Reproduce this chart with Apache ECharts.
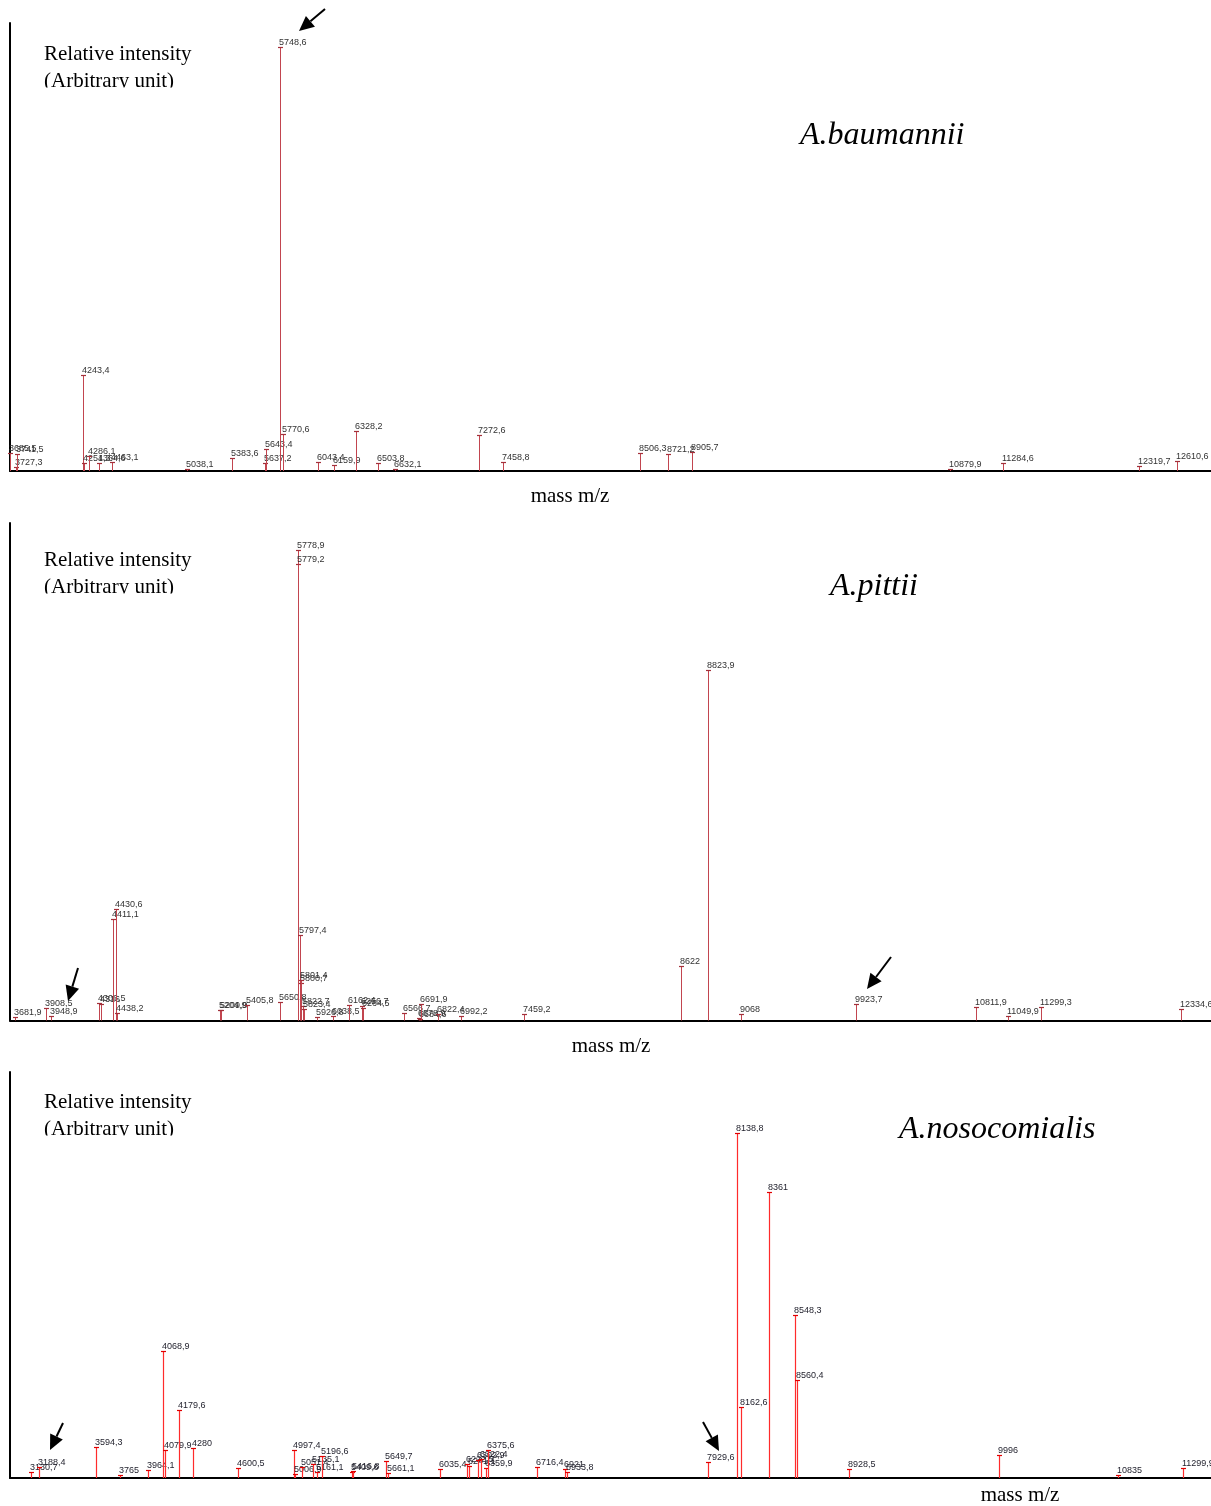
<!DOCTYPE html>
<html>
<head>
<meta charset="utf-8">
<script src="https://cdn.jsdelivr.net/npm/echarts@6/dist/echarts.min.js"></script>
<style>
html, body { margin: 0; padding: 0; background: #fff; overflow: hidden; }
#main { width: 1211px; height: 1506px; }
</style>
</head>
<body>
<div id="main"></div>
<script>
// A.baumannii - peaks m/z and relative intensity (arbitrary unit)
var masses1 = [3685.5, 3727.3, 3741.5, 4243.4, 4251.3, 4286.1, 4364.6, 4463.1, 5038.1, 5383.6,
	5637.2, 5643.4, 5748.6, 5770.6, 6043.4, 6159.9, 6328.2, 6503.8, 6632.1, 7272.6,
	7458.8, 8506.3, 8721.2, 8905.7, 10879.9, 11284.6, 12319.7, 12610.6];
var intens1 = [18, 4, 17, 96, 8, 15, 8, 9, 2, 13,
	8, 22, 424, 37, 9, 6, 40, 8, 2, 36,
	9, 18, 17, 19, 2, 8, 5, 10];

// A.pittii
var masses2 = [3681.9, 3908.5, 3948.9, 4306.5, 4316, 4411.1, 4430.6, 4438.2, 5204.9, 5209.9,
	5405.8, 5650.8, 5778.9, 5779.2, 5797.4, 5800.7, 5801.4, 5822.7, 5823.4, 5926.8,
	6038.5, 6162.4, 6256.7, 6264.5, 6566.7, 6678.9, 6684.6, 6691.9, 6822.4, 6992.2,
	7459.2, 8622, 8823.9, 9068, 9923.7, 10811.9, 11049.9, 11299.3, 12334.6];
var intens2 = [3.7, 12.4, 4.7, 17.4, 16.4, 102, 111.4, 7.4, 10.7, 10.2,
	15.7, 18.4, 471, 457, 86, 38, 41, 15, 12, 4,
	5, 16, 15, 13, 8, 3, 2, 17, 7, 5,
	7, 55, 351, 7, 17, 14, 5, 14, 12];

// A.nosocomialis
var masses3 = [3130.7, 3188.4, 3594.3, 3765, 3964.1, 4068.9, 4079.9, 4179.6, 4280, 4600.5,
	4997.4, 5006.9, 5051.4, 5135.1, 5161.1, 5196.6, 5409.6, 5416.8, 5649.7, 5661.1,
	6035.4, 6222.5, 6241.1, 6302.9, 6322.4, 6359.9, 6375.6, 6716.4, 6921, 6933.8,
	7929.6, 8138.8, 8162.6, 8361, 8548.3, 8560.4, 8928.5, 9996, 10835, 11299.9];
var intens3 = [5.6, 10.6, 30.6, 3.3, 8, 126.6, 28, 68, 30, 9.6,
	28, 4, 11, 14, 5.6, 22, 6, 6.6, 17.3, 5,
	9, 14, 12, 18, 19, 10, 28, 11, 9, 6,
	16, 344.7, 71, 285.7, 163, 98, 9, 23, 3.5, 10];

var species = ['A.baumannii', 'A.pittii', 'A.nosocomialis'];

// axis ranges (m/z visible in each panel, intensity top)
var xRanges = [[3685, 12873], [3644, 12560], [2985, 11496]];
var yMax = [448, 497.5, 406];

var serif = "'Liberation Serif', 'Times New Roman', serif";

function fmtMass(m) {
	return String(m).replace('.', ',');
}

function peakRenderer(stemColor, capColor, textColor, lw) {
	return function(params, api) {
		var m = api.value(0);
		var top = api.coord([m, api.value(1)]);
		var base = api.coord([m, 0]);
		var x = Math.round(top[0]) + 0.5;
		var y = Math.round(top[1]) + 0.5;
		return {
			type : 'group',
			children : [
				{ type : 'line', shape : { x1 : x, y1 : base[1], x2 : x, y2 : y },
					style : { stroke : stemColor, lineWidth : lw } },
				{ type : 'line', shape : { x1 : x - 2.5, y1 : y, x2 : x + 2.5, y2 : y },
					style : { stroke : capColor, lineWidth : 1.2 } },
				{ type : 'text', x : x - 1.5, y : y - 0.5,
					style : { text : fmtMass(m), font : '9px Arial, "Liberation Sans", sans-serif',
						fill : textColor, align : 'left', verticalAlign : 'bottom' } }
			]
		};
	};
}

function arrow(x1, y1, x2, y2) {
	var dx = x2 - x1, dy = y2 - y1;
	var len = Math.sqrt(dx * dx + dy * dy);
	var ux = dx / len, uy = dy / len;
	var hl = 15, hw = 7;
	var bx = x2 - ux * hl, by = y2 - uy * hl;
	return [
		{ type : 'line', shape : { x1 : x1, y1 : y1, x2 : bx, y2 : by },
			style : { stroke : '#000', lineWidth : 2 }, z : 100 },
		{ type : 'polygon', shape : { points : [[x2, y2], [bx - uy * hw, by + ux * hw], [bx + uy * hw, by - ux * hw]] },
			style : { fill : '#000' }, z : 100 }
	];
}

var grids = [
	{ left : 10, right : 0, top : 23, height : 448 },
	{ left : 10, right : 0, top : 523, height : 497.5 },
	{ left : 10, right : 0, top : 1072, height : 406 }
];

var xAxes = [], yAxes = [];
for (var i = 0; i < 3; i++) {
	xAxes.push({
		type : 'value', gridIndex : i, min : xRanges[i][0], max : xRanges[i][1],
		axisLine : { show : true, onZero : false, lineStyle : { color : '#000', width : 2 } },
		axisTick : { show : false }, axisLabel : { show : false }, splitLine : { show : false }
	});
	yAxes.push({
		type : 'value', gridIndex : i, min : 0, max : yMax[i],
		axisLine : { show : true, lineStyle : { color : '#000', width : 2 } },
		axisTick : { show : false }, axisLabel : { show : false }, splitLine : { show : false }
	});
}

function toData(ms, hs) {
	var d = [];
	for (var k = 0; k < ms.length; k++) {
		d.push([ms[k], hs[k]]);
	}
	return d;
}

var series = [
	{ type : 'custom', xAxisIndex : 0, yAxisIndex : 0, data : toData(masses1, intens1),
		renderItem : peakRenderer('#c2454f', '#a3303a', '#333333', 1), silent : true },
	{ type : 'custom', xAxisIndex : 1, yAxisIndex : 1, data : toData(masses2, intens2),
		renderItem : peakRenderer('#c2454f', '#a3303a', '#333333', 1), silent : true },
	{ type : 'custom', xAxisIndex : 2, yAxisIndex : 2, data : toData(masses3, intens3),
		renderItem : peakRenderer('#ff2b2b', '#e00000', '#1e1e2a', 1.2), silent : true }
];

// text blocks : y axis title (second line is cut in the original), species, x axis name
var graphics = [];
var titleY = [52.5, 558.5, 1100.5];
var cutY = [87.5, 593.5, 1135.5];
var speciesPos = [[800, 136], [830, 587], [899, 1130]];
var massPos = [[570, 496], [611, 1046], [1020, 1495]];
for (var p = 0; p < 3; p++) {
	graphics.push({ type : 'text', left : 44, top : titleY[p] - 9, z : 50,
		style : { text : 'Relative intensity', font : '21px ' + serif, fill : '#000' } });
	graphics.push({ type : 'text', left : 44, top : titleY[p] + 18.5, z : 50,
		style : { text : '(Arbitrary unit)', font : '21px ' + serif, fill : '#000' } });
	graphics.push({ type : 'rect', shape : { x : 40, y : cutY[p], width : 170, height : 10 }, z : 60,
		style : { fill : '#fff' } });
	graphics.push({ type : 'text', x : speciesPos[p][0], y : speciesPos[p][1], z : 50,
		style : { text : species[p], font : 'italic 32px ' + serif, fill : '#000',
			align : 'left', verticalAlign : 'middle' } });
	graphics.push({ type : 'text', x : massPos[p][0], y : massPos[p][1], z : 50,
		style : { text : 'mass m/z', font : '21px ' + serif, fill : '#000',
			align : 'center', verticalAlign : 'middle' } });
}
// pointer arrows
graphics = graphics.concat(arrow(325, 9, 299, 31));
graphics = graphics.concat(arrow(78, 968, 68, 1001));
graphics = graphics.concat(arrow(891, 957, 867, 989));
graphics = graphics.concat(arrow(63, 1423, 50, 1450));
graphics = graphics.concat(arrow(703, 1422, 719, 1451));

var chart = echarts.init(document.getElementById('main'), null, { renderer : 'canvas' });
chart.setOption({
	backgroundColor : '#fff',
	animation : false,
	grid : grids,
	xAxis : xAxes,
	yAxis : yAxes,
	series : series,
	graphic : graphics
});
</script>
</body>
</html>
